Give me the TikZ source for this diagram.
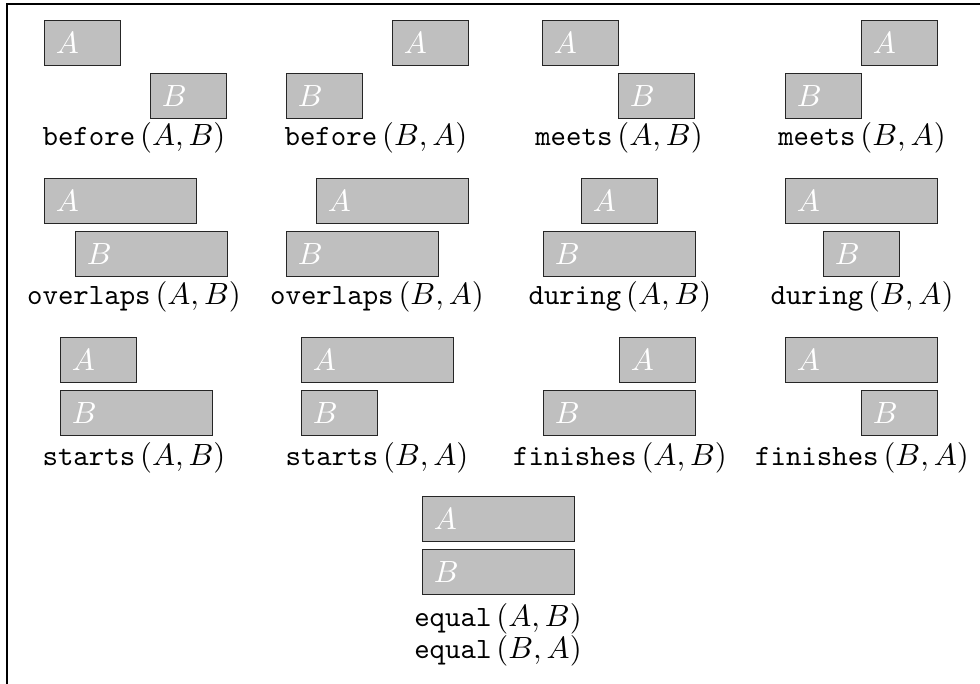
\documentclass[tikz,border=0pt]{standalone}
\begin{document}
\begin{tikzpicture}[x=0.357pt,y=-0.357pt,
  interval/.style={draw=black!85, line width=0.45pt, fill=black!25, text=white,
    anchor=north west, minimum height=16.1pt, inner xsep=4.0pt, inner ysep=0pt,
    align=left, font=\fontsize{11.4}{13}\selectfont},
  short/.style={interval, text width=19.1pt},
  long/.style={interval, text width=46.3pt},
  relname/.style={anchor=center, inner sep=0pt, font=\fontsize{10.5}{13}\selectfont}]
\useasboundingbox (0,0) rectangle (980,684);
% frame
\draw[line width=0.4pt] (7,684) -- (7,4) -- (980,4);

% row 1
\node[short] (bAB-a) at (44,20) {$A$};
\node[short] (bAB-b) at (150,73) {$B$};
\node[relname] (bAB) at (134,138) {\texttt{before}\,$(A,B)$};

\node[short] (bBA-a) at (392,20) {$A$};
\node[short] (bBA-b) at (286,73) {$B$};
\node[relname] (bBA) at (376,138) {\texttt{before}\,$(B,A)$};

\node[short] (mAB-a) at (542,20) {$A$};
\node[short] (mAB-b) at (618,73) {$B$};
\node[relname] (mAB) at (619,138) {\texttt{meets}\,$(A,B)$};

\node[short] (mBA-a) at (861,20) {$A$};
\node[short] (mBA-b) at (785,73) {$B$};
\node[relname] (mBA) at (862,138) {\texttt{meets}\,$(B,A)$};

% row 2
\node[long] (oAB-a) at (44,178) {$A$};
\node[long] (oAB-b) at (75,231) {$B$};
\node[relname] (oAB) at (134,297) {\texttt{overlaps}\,$(A,B)$};

\node[long] (oBA-a) at (316,178) {$A$};
\node[long] (oBA-b) at (286,231) {$B$};
\node[relname] (oBA) at (377,297) {\texttt{overlaps}\,$(B,A)$};

\node[short] (dAB-a) at (581,178) {$A$};
\node[long] (dAB-b) at (543,231) {$B$};
\node[relname] (dAB) at (620,297) {\texttt{during}\,$(A,B)$};

\node[long] (dBA-a) at (785,178) {$A$};
\node[short] (dBA-b) at (823,231) {$B$};
\node[relname] (dBA) at (862,297) {\texttt{during}\,$(B,A)$};

% row 3
\node[short] (sAB-a) at (60,337) {$A$};
\node[long] (sAB-b) at (60,390) {$B$};
\node[relname] (sAB) at (134,458) {\texttt{starts}\,$(A,B)$};

\node[long] (sBA-a) at (301,337) {$A$};
\node[short] (sBA-b) at (301,390) {$B$};
\node[relname] (sBA) at (377,458) {\texttt{starts}\,$(B,A)$};

\node[short] (fAB-a) at (619,337) {$A$};
\node[long] (fAB-b) at (543,390) {$B$};
\node[relname] (fAB) at (620,458) {\texttt{finishes}\,$(A,B)$};

\node[long] (fBA-a) at (785,337) {$A$};
\node[short] (fBA-b) at (861,390) {$B$};
\node[relname] (fBA) at (862,458) {\texttt{finishes}\,$(B,A)$};

% row 4
\node[long] (eq-a) at (422,496) {$A$};
\node[long] (eq-b) at (422,549) {$B$};
\node[relname] (eqAB) at (498,619) {\texttt{equal}\,$(A,B)$};
\node[relname] (eqBA) at (498,651) {\texttt{equal}\,$(B,A)$};
\end{tikzpicture}
\end{document}
